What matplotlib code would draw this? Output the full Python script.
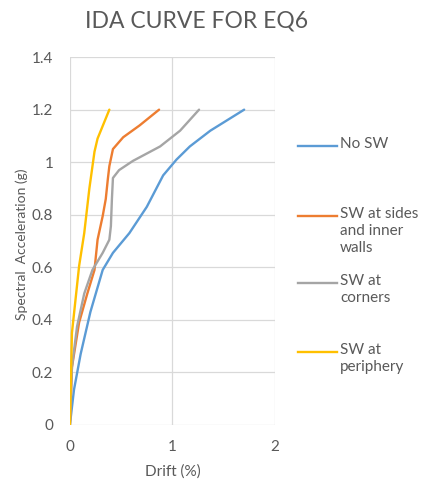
import matplotlib
matplotlib.use("Agg")
import matplotlib.pyplot as plt
from matplotlib.lines import Line2D

plt.rcParams['font.family'] = ['Lato', 'DejaVu Sans']

# data
labels = ["No SW", "SW at sides\nand inner\nwalls", "SW at\ncorners", "SW at\nperiphery"]
colors = ["#5B9BD5", "#ED7D31", "#A5A5A5", "#FFC000"]

drift_no_sw = [0, 0.04, 0.105, 0.20, 0.32, 0.42, 0.58, 0.75, 0.91, 1.04, 1.17, 1.37, 1.70]
sa_no_sw = [0, 0.134, 0.27, 0.43, 0.59, 0.655, 0.73, 0.83, 0.95, 1.01, 1.06, 1.12, 1.2]

drift_sides = [0, 0.02, 0.09, 0.17, 0.24, 0.27, 0.32, 0.35, 0.37, 0.385, 0.42, 0.52, 0.68, 0.87]
sa_sides = [0, 0.22, 0.39, 0.50, 0.59, 0.705, 0.795, 0.86, 0.935, 0.985, 1.05, 1.095, 1.14, 1.2]

drift_corners = [0, 0.02, 0.07, 0.14, 0.22, 0.32, 0.385, 0.40, 0.41, 0.42, 0.48, 0.615, 0.88, 1.075, 1.26]
sa_corners = [0, 0.22, 0.375, 0.50, 0.59, 0.655, 0.705, 0.757, 0.86, 0.94, 0.97, 1.005, 1.06, 1.12, 1.2]

drift_periph = [0, 0.02, 0.09, 0.14, 0.19, 0.24, 0.27, 0.385]
sa_periph = [0, 0.35, 0.605, 0.73, 0.90, 1.04, 1.09, 1.2]

series = [(drift_no_sw, sa_no_sw), (drift_sides, sa_sides),
          (drift_corners, sa_corners), (drift_periph, sa_periph)]

txt = "#595959"
fig = plt.figure(figsize=(4.21, 4.84), dpi=100)
ax = fig.add_axes([0.166, 0.122, 0.487, 0.76])

for (x, y), c in zip(series, colors):
    ax.plot(x, y, color=c, lw=1.7, solid_capstyle='round', solid_joinstyle='round')

ax.set_xlim(0, 2)
ax.set_ylim(0, 1.4)
ax.set_xticks([0, 1, 2])
ax.set_xticklabels(["0", "1", "2"])
ax.set_yticks([0, 0.2, 0.4, 0.6, 0.8, 1.0, 1.2, 1.4])
ax.set_yticklabels(["0", "0.2", "0.4", "0.6", "0.8", "1", "1.2", "1.4"])
ax.grid(True, color="#d9d9d9", lw=0.9)
ax.set_axisbelow(True)
for s in ax.spines.values():
    s.set_visible(False)
ax.tick_params(axis='y', length=0, colors=txt, labelsize=11, pad=12)
ax.tick_params(axis='x', length=0, colors=txt, labelsize=11, pad=11)
ax.set_xlabel("Drift (%)", color=txt, fontsize=11, labelpad=7)
ax.set_ylabel("Spectral  Acceleration (g)", color=txt, fontsize=10, labelpad=-2)
ax.yaxis.set_label_coords(-0.205, 0.49)

fig.text(0.468, 1 - 21 / 484, "IDA CURVE FOR EQ6", ha='center', va='center',
         fontsize=16.5, color=txt)

# legend at the right, Excel style
leg_y = [146, 216, 283, 352]
for lab, c, yp in zip(labels, colors, leg_y):
    yf = 1 - yp / 484
    fig.add_artist(Line2D([298 / 421, 337 / 421], [yf, yf], color=c, lw=1.7,
                          transform=fig.transFigure))
    fig.text(340 / 421, yf + 0.019, lab, ha='left', va='top', fontsize=11,
             color=txt, linespacing=1.3)

fig.savefig("out.png", dpi=100)
